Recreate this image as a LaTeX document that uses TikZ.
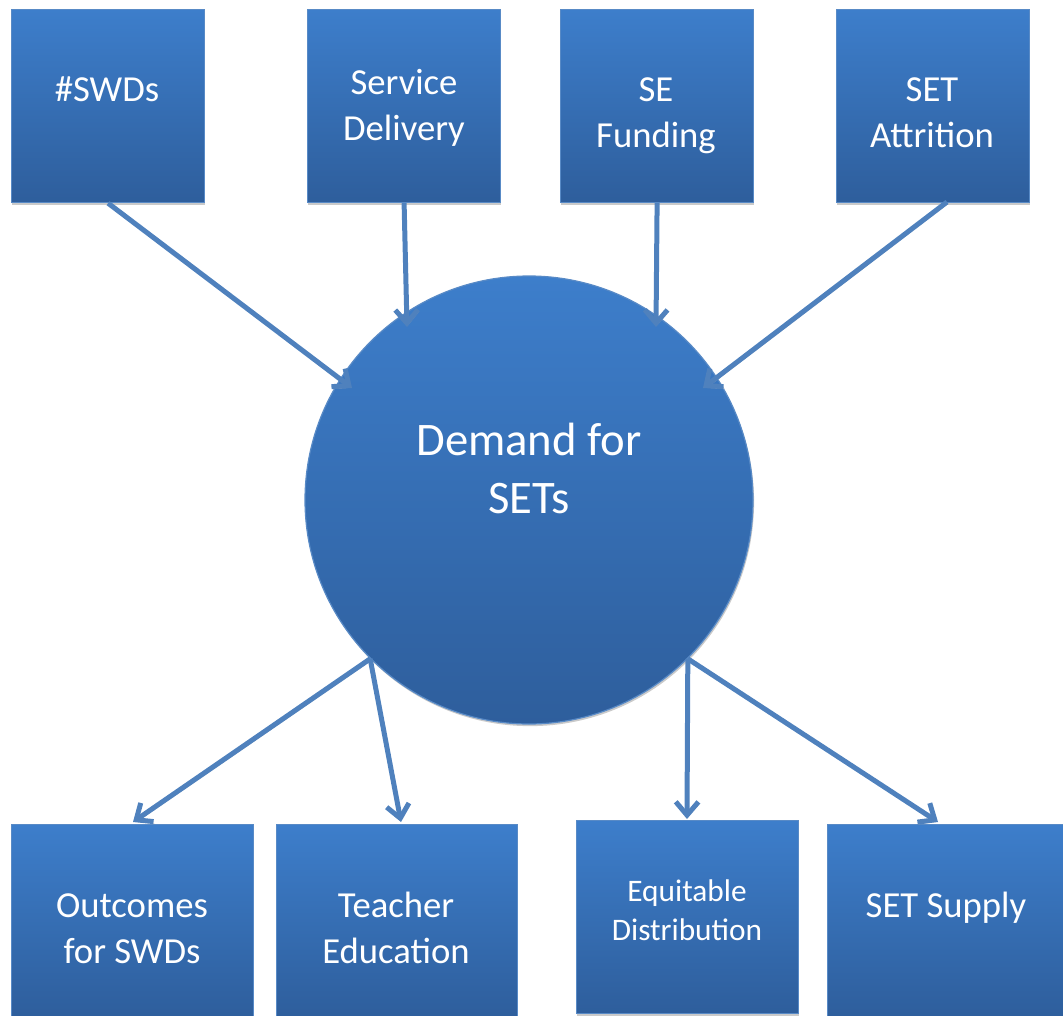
\documentclass[tikz,border=0pt]{standalone}
\usepackage{fontspec}
\setmainfont{Carlito}
\usetikzlibrary{arrows.meta,shadows,calc}
\definecolor{boxtop}{RGB}{61,126,203}
\definecolor{boxbot}{RGB}{46,94,156}
\definecolor{boxedge}{RGB}{88,138,198}
\definecolor{arrowc}{RGB}{79,129,189}
\newcommand{\twolines}[2]{\begin{tabular}[t]{@{}c@{}}#1\\#2\end{tabular}}
\newcommand{\mainsz}{\fontsize{27.5}{34.5}\selectfont}
\begin{document}
\begin{tikzpicture}[x=0.75pt,y=-0.75pt,
  box/.style={rectangle, draw=boxedge, line width=0.9pt, top color=boxtop, bottom color=boxbot,
    inner sep=0pt, anchor=north west, minimum width=144.75pt, minimum height=144.75pt,
    drop shadow={shadow xshift=0.3pt, shadow yshift=-1.6pt, opacity=0.35, fill=black!60}},
  lbl/.style={text=white, anchor=base, inner sep=0pt, font=\mainsz},
  arr/.style={draw=arrowc, line width=3.75pt, -{Straight Barb[length=10pt,width=17pt]},
    preaction={draw=black!22, transform canvas={shift={(0.6pt,-1.4pt)}}}}]
\useasboundingbox (0,0) rectangle (1063,1016);
% top boxes
\node[box] (b1) at (11,9) {};
\node[box] (b2) at (307,9) {};
\node[box] (b3) at (560,9) {};
\node[box] (b4) at (836,9) {};
% bottom boxes
\node[box, minimum width=181.5pt] (o1) at (11,824) {};
\node[box, minimum width=180.75pt] (o2) at (276,824) {};
\node[box, minimum width=166.5pt] (o3) at (576,820) {};
\node[box, minimum width=182.25pt] (o4) at (827,824) {};
% circle
\node[circle, draw=boxedge, line width=0.9pt, top color=boxtop, bottom color=boxbot,
  minimum size=336pt, inner sep=0pt,
  drop shadow={shadow xshift=0.8pt, shadow yshift=-1.6pt, opacity=0.35, fill=black!60}] (dem) at (529,500) {};
% labels
\node[lbl] (l1) at (107,102) {\#SWDs};
\node[lbl] (l2) at (404,95) {\twolines{Service}{Delivery}};
\node[lbl] (l3) at (656,102) {\twolines{SE}{Funding}};
\node[lbl] (l4) at (932,102) {\twolines{SET}{Attrition}};
\node[lbl, font=\fontsize{35}{43.5}\selectfont] (ld) at (529,455) {\twolines{Demand for}{SETs}};
\node[lbl] (m1) at (132,917) {\twolines{Outcomes}{for SWDs}};
\node[lbl] (m2) at (396,917) {\twolines{Teacher}{Education}};
\node[lbl, font=\fontsize{23.5}{29.25}\selectfont] (m3) at (687,901) {\twolines{Equitable}{Distribution}};
\node[lbl] (m4) at (946,917) {SET Supply};
% arrow ends
\coordinate (s4) at (947,202);
\coordinate (e1) at (352,388);
\coordinate (e2) at (407,327);
\coordinate (e3) at (656,327);
\coordinate (e4) at (703,388);
\coordinate (f1) at (133,822);
\coordinate (f2) at (401,822);
\coordinate (f3) at (687,819);
\coordinate (f4) at (938,822);
\draw[arr] (b1.south) -- (e1);
\draw[arr] (b2.south) -- (e2);
\draw[arr] (b3.south) -- (e3);
\draw[arr] (s4) -- (e4);
\draw[arr] (dem.225) -- (f1);
\draw[arr] (dem.225) -- (f2);
\draw[arr] (dem.-45) -- (f3);
\draw[arr] (dem.-45) -- (f4);
\end{tikzpicture}
\end{document}
